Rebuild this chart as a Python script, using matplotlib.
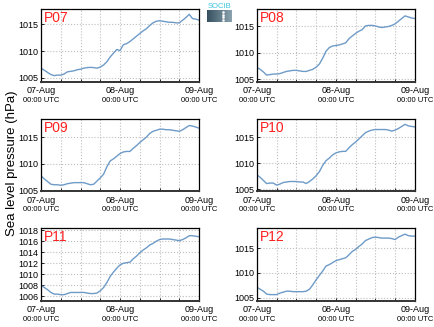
import numpy as np
import pandas as pd
import matplotlib
matplotlib.use('Agg')
import matplotlib.pyplot as plt
import matplotlib.dates as mdates
import matplotlib.transforms as mtransforms
from matplotlib.ticker import MultipleLocator

plt.rcParams['font.family'] = ['Liberation Sans', 'DejaVu Sans']

# hourly sea level pressure (hPa), 07-Aug 00:00 to 09-Aug 00:00 UTC
times = pd.date_range('2013-08-07 00:00', periods=49, freq='h')

stations = ['P07', 'P08', 'P09', 'P10', 'P11', 'P12']

p07 = [1006.8, 1006.4, 1006.0, 1005.6, 1005.4, 1005.5, 1005.5, 1005.7, 1006.1, 1006.2,
       1006.3, 1006.5, 1006.6, 1006.8, 1006.9, 1006.95, 1006.9, 1006.8, 1007.0, 1007.4,
       1008.0, 1008.9, 1009.6, 1010.3, 1010.1, 1011.2, 1011.4, 1011.8, 1012.3, 1012.8,
       1013.3, 1013.8, 1014.2, 1014.8, 1015.3, 1015.6, 1015.7, 1015.6, 1015.5, 1015.4,
       1015.4, 1015.3, 1015.3, 1015.8, 1016.3, 1016.9, 1016.1, 1016.0, 1015.8]
p08 = [1007.3, 1006.9, 1006.4, 1005.8, 1005.9, 1006.0, 1006.0, 1006.1, 1006.3, 1006.5,
       1006.6, 1006.7, 1006.7, 1006.6, 1006.5, 1006.5, 1006.7, 1006.9, 1007.3, 1007.9,
       1009.0, 1010.3, 1011.0, 1011.3, 1011.4, 1011.5, 1011.7, 1011.9, 1012.7, 1013.2,
       1013.7, 1014.1, 1014.4, 1015.1, 1015.2, 1015.2, 1015.1, 1014.9, 1014.8, 1014.9,
       1015.0, 1015.2, 1015.5, 1016.0, 1016.5, 1017.0, 1016.8, 1016.6, 1016.5]
p09 = [1007.7, 1007.1, 1006.6, 1006.1, 1006.0, 1006.0, 1005.9, 1006.0, 1006.2, 1006.3,
       1006.4, 1006.4, 1006.4, 1006.4, 1006.2, 1006.0, 1006.1, 1006.7, 1007.3, 1008.0,
       1009.4, 1010.5, 1010.9, 1011.4, 1011.9, 1012.2, 1012.3, 1012.3, 1012.9, 1013.4,
       1014.0, 1014.5, 1015.0, 1015.7, 1016.1, 1016.3, 1016.5, 1016.5, 1016.4, 1016.4,
       1016.3, 1016.2, 1016.1, 1016.4, 1016.8, 1017.2, 1017.1, 1016.9, 1016.7]
p10 = [1007.8, 1007.3, 1006.7, 1006.1, 1006.2, 1006.2, 1005.8, 1006.0, 1006.3, 1006.4,
       1006.5, 1006.5, 1006.5, 1006.4, 1006.4, 1006.1, 1006.5, 1007.0, 1007.6, 1008.4,
       1009.6, 1010.5, 1011.0, 1011.6, 1012.0, 1012.2, 1012.3, 1012.3, 1013.0, 1013.6,
       1014.1, 1014.7, 1015.3, 1015.9, 1016.2, 1016.4, 1016.5, 1016.5, 1016.5, 1016.5,
       1016.4, 1016.2, 1016.4, 1016.7, 1017.1, 1017.5, 1017.2, 1017.1, 1017.0]
p11 = [1008.0, 1007.6, 1007.2, 1006.7, 1006.4, 1006.4, 1006.3, 1006.3, 1006.5, 1006.7,
       1006.7, 1006.7, 1006.7, 1006.7, 1006.6, 1006.5, 1006.5, 1006.6, 1007.0, 1007.6,
       1008.5, 1009.6, 1010.4, 1011.1, 1011.7, 1012.0, 1012.1, 1012.2, 1012.8, 1013.3,
       1013.9, 1014.4, 1014.8, 1015.3, 1015.6, 1016.0, 1016.3, 1016.4, 1016.4, 1016.4,
       1016.3, 1016.2, 1016.1, 1016.3, 1016.6, 1017.0, 1017.0, 1016.9, 1016.8]
p12 = [1007.1, 1006.7, 1006.3, 1005.7, 1005.6, 1005.6, 1005.6, 1005.9, 1006.1, 1006.3,
       1006.3, 1006.2, 1006.2, 1006.2, 1006.2, 1006.3, 1006.7, 1007.6, 1008.6, 1009.5,
       1010.4, 1011.4, 1011.7, 1012.1, 1012.5, 1012.7, 1012.9, 1013.1, 1013.7, 1014.4,
       1014.8, 1015.4, 1015.9, 1016.6, 1016.9, 1017.2, 1017.3, 1017.2, 1017.1, 1017.1,
       1017.1, 1017.0, 1016.8, 1017.3, 1017.6, 1017.9, 1017.6, 1017.5, 1017.5]

series = [p07, p08, p09, p10, p11, p12]
ylims = [(1004.25, 1017.9), (1004.55, 1018.3), (1004.75, 1018.5),
         (1004.6, 1018.6), (1005.15, 1018.35), (1004.3, 1019.1)]
ysteps = [5, 5, 5, 5, 2, 5]

fig, axes = plt.subplots(3, 2, figsize=(4.34, 3.27), dpi=100)
fig.subplots_adjust(left=0.0945, right=0.956, top=0.9725, bottom=0.0795,
                    wspace=0.365, hspace=0.507)

for ax, name, vals, yl, step in zip(axes.flat, stations, series, ylims, ysteps):
    ax.plot(times, vals, color='#6e9bc8', lw=1.0)
    ax.set_xlim(times[0], times[-1])
    ax.set_ylim(*yl)
    ax.yaxis.set_major_locator(MultipleLocator(step))
    ax.xaxis.set_major_locator(mdates.DayLocator())
    ax.xaxis.set_major_formatter(mdates.DateFormatter('%d-%b'))
    ax.xaxis.set_minor_locator(mdates.HourLocator(byhour=[6, 12, 18]))
    ax.tick_params(axis='both', which='both', direction='in', labelsize=6.5,
                   length=2.5, width=0.6, pad=2)
    ax.tick_params(axis='x', which='major', pad=3)
    ax.grid(True, which='both', color='#bdbdbd', linestyle=':', lw=0.8)
    for s in ax.spines.values():
        s.set_linewidth(0.9)
    ax.spines['bottom'].set_linewidth(1.4)
    ax.spines['bottom'].set_color('#333333')
    ax.text(0.02, 0.97, name, transform=ax.transAxes, color='#ff2020',
            fontsize=10, va='top', ha='left')
    trans = mtransforms.blended_transform_factory(ax.transData, ax.transAxes)
    for d in times[::24]:
        ax.text(mdates.date2num(d), -0.205, '00:00 UTC', transform=trans,
                fontsize=5.5, ha='center', va='top')

fig.text(0.028, 0.5, 'Sea level pressure (hPa)', rotation=90,
         fontsize=9.5, ha='center', va='center')

# small logo
lax = fig.add_axes([207 / 434, 1 - 22 / 327, 25 / 434, 12 / 327])
grad = np.linspace(0, 1, 50).reshape(1, -1)
lax.imshow(grad, cmap=matplotlib.colors.LinearSegmentedColormap.from_list(
    'logo', ['#35505f', '#8aa3ae']), aspect='auto', extent=(0, 1, 0, 1))
lax.plot([0.62] * 4, [0.2, 0.4, 0.6, 0.8], 's', color='white', ms=0.8)
lax.axis('off')
fig.text(219.5 / 434, 1 - 6 / 327, 'SOCIB', color='#3cc3dc', fontsize=5.5,
         ha='center', va='center')

fig.savefig('out.png', dpi=100)
